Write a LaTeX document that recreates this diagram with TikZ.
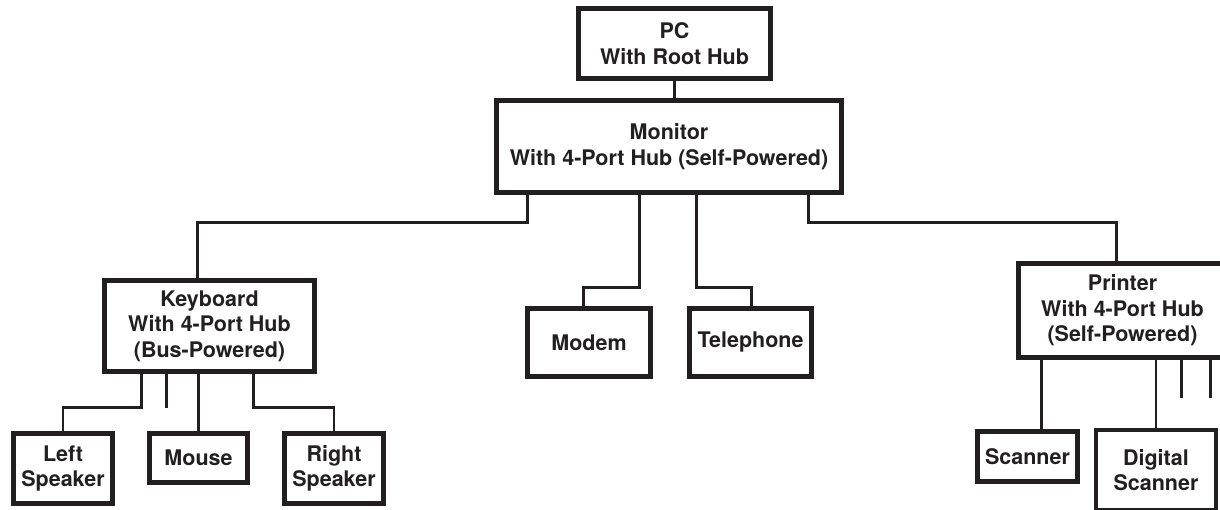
\documentclass[tikz,border=0pt]{standalone}
\usepackage{fontspec}
\setmainfont{TeX Gyre Heros}
\definecolor{ink}{HTML}{231F20}
\begin{document}
\begin{tikzpicture}[x=1pt,y=-1pt,
  box/.style={draw=ink, line width=4.2pt, inner sep=0pt, align=center,
    text=ink, font=\fontsize{21.5}{25.5}\selectfont\bfseries},
  wire/.style={draw=ink, line width=2.7pt}]
\useasboundingbox (0,0) rectangle (1220,510);
\clip (0,0) rectangle (1220,510);
% nodes
\node[box, minimum width=192, minimum height=70] (pc) at (674.5,43.5) {PC\\With Root Hub};
\node[box, minimum width=345, minimum height=92] (mon) at (669,146.5) {Monitor\\With 4-Port Hub (Self-Powered)};
\node[box, minimum width=210, minimum height=91] (kb) at (209.5,326) {Keyboard\\With 4-Port Hub\\(Bus-Powered)};
\node[box, minimum width=123, minimum height=68] (modem) at (589,342.5) {Modem};
\node[box, minimum width=122, minimum height=68] (tel) at (750.5,342.5) {Telephone};
\node[box, minimum width=208, minimum height=94] (pr) at (1122.5,310.5) {Printer\\With 4-Port Hub\\(Self-Powered)};
\node[box, minimum width=99, minimum height=70] (ls) at (63,468.5) {Left\\Speaker};
\node[box, minimum width=98, minimum height=49] (mouse) at (198.5,458) {Mouse};
\node[box, minimum width=99, minimum height=70] (rs) at (334,468.5) {Right\\Speaker};
\node[box, minimum width=100, minimum height=50] (sc) at (1027.5,456.5) {Scanner};
\node[box, minimum width=120, minimum height=80] (ds) at (1156,470) {Digital\\Scanner};
% connectors
\draw[wire] (pc.south) -- (pc.south |- mon.north);
\draw[wire] ([xshift=33pt]mon.south west) -- ++(0,28) -| ([xshift=95pt]kb.north west);
\draw[wire] ([xshift=145pt]mon.south west) -- ++(0,93) -| ([xshift=58pt]modem.north west);
\draw[wire] ([xshift=202pt]mon.south west) -- ++(0,93) -| ([xshift=64pt]tel.north west);
\draw[wire] ([xshift=314pt]mon.south west) -- ++(0,28) -| ([xshift=100pt]pr.north west);
\draw[wire] ([xshift=39pt]kb.south west) -- ++(0,34) -| (ls.north);
\draw[wire] ([xshift=64pt]kb.south west) -- ++(0,34);
\draw[wire] (mouse.north |- kb.south) -- (mouse.north);
\draw[wire] ([xshift=151pt]kb.south west) -- ++(0,34) -| (rs.north);
\coordinate (p1) at ([xshift=25pt]pr.south west);
\draw[wire] (p1) -- (p1 |- sc.north);
\draw[wire] (ds.north |- pr.south) -- (ds.north);
\draw[wire] ([xshift=165pt]pr.south west) -- ++(0,38);
\draw[wire] ([xshift=194pt]pr.south west) -- ++(0,38);
\end{tikzpicture}
\end{document}
